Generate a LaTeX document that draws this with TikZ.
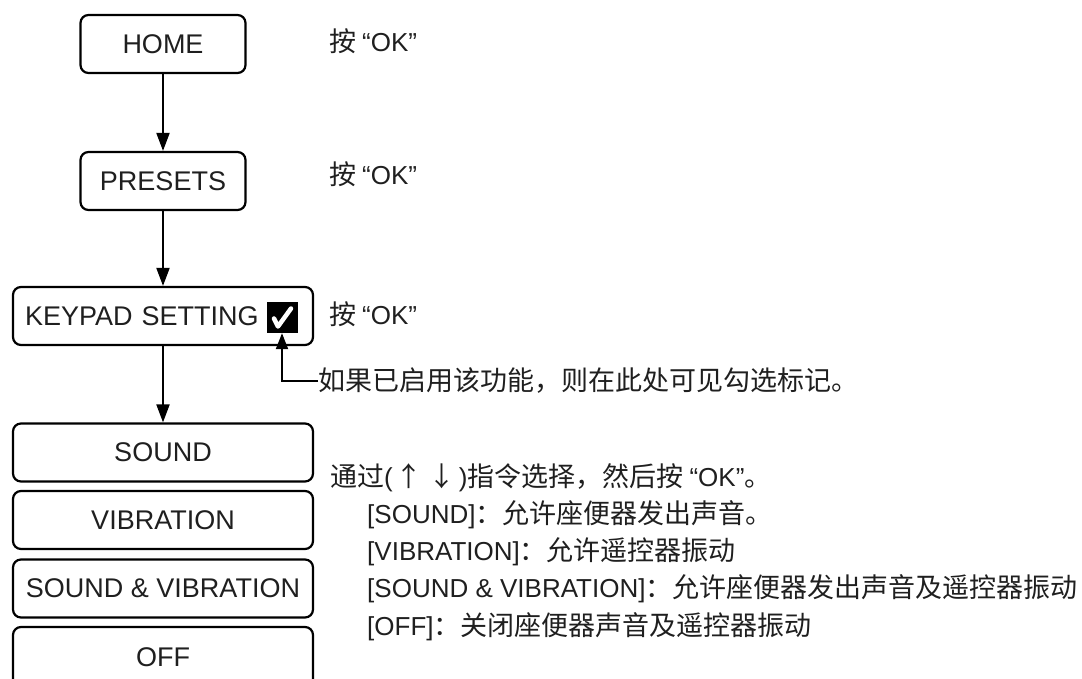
\documentclass[tikz,border=0pt]{standalone}
\usepackage{fontspec}
\setmainfont{Liberation Sans}
\newfontfamily\cjk{Noto Sans CJK SC}
\newcommand{\zh}[1]{{\cjk\fontsize{27}{30}\selectfont #1}}
\usetikzlibrary{arrows.meta}
\begin{document}
\begin{tikzpicture}[x=1pt,y=-1pt,
  menubox/.style={draw, line width=2.2pt, rounded corners=8pt, minimum height=58pt, inner sep=0pt, font=\fontsize{27}{30}\selectfont},
  note/.style={anchor=west, inner sep=0pt, font=\fontsize{26}{30}\selectfont},
  flow/.style={line width=2pt, -{Triangle[length=18pt,width=13pt]}},
  every node/.append style={text=black!88}]
\useasboundingbox (0,0) rectangle (1082,679);
\node[menubox, minimum width=165pt] (home) at (163,44) {HOME};
\node[menubox, minimum width=165pt] (presets) at (163,181) {PRESETS};
\node[menubox, minimum width=300pt, text width=276pt, align=left] (keypad) at (163,316) {KEYPAD SETTING};
\node[fill=black, minimum size=31pt, inner sep=0pt] (chk) at (282,317.5) {};
\draw[white, line width=4.5pt, line cap=round, line join=round] ([shift={(-8,1)}]chk.center) -- ([shift={(-4,9)}]chk.center) -- ([shift={(9,-9)}]chk.center);
\node[menubox, minimum width=300pt] (sound) at (163,452.5) {SOUND};
\node[menubox, minimum width=300pt] (vib) at (163,520) {VIBRATION};
\node[menubox, minimum width=300pt] (sv) at (163,588.5) {SOUND \& VIBRATION};
\node[menubox, minimum width=300pt, minimum height=60pt] (off) at (163,657) {OFF};
\draw[flow] (home) -- (presets);
\draw[flow] (presets) -- (keypad);
\draw[flow] (keypad) -- (sound);
\node[note] (ok1) at (329,41) {\zh{按}\kern6pt“OK”};
\node[note] (ok2) at (329,174) {\zh{按}\kern6pt“OK”};
\node[note] (ok3) at (329,314) {\zh{按}\kern6pt“OK”};
\node[note] (hint) at (318,381) {\zh{如果已启用该功能，则在此处可见勾选标记。}};
\coordinate (corner) at (chk.south |- hint.west);
\draw[line width=2pt, -{Triangle[length=16pt,width=12pt]}] (hint.west) -- (corner) -- (chk.south);
\node[note] (l0) at (330,478) {\zh{通过}(\kern3pt\zh{↑ ↓}\kern3pt)\zh{指令选择，然后按}\kern6pt“OK”\zh{。}};
\node[note] (l1) at (367,515) {[SOUND]\zh{：允许座便器发出声音。}};
\node[note] (l2) at (367,552) {[VIBRATION]\zh{：允许遥控器振动}};
\node[note] (l3) at (367,589) {[SOUND \& VIBRATION]\zh{：允许座便器发出声音及遥控器振动}};
\node[note] (l4) at (367,627) {[OFF]\zh{：关闭座便器声音及遥控器振动}};
\end{tikzpicture}
\end{document}
